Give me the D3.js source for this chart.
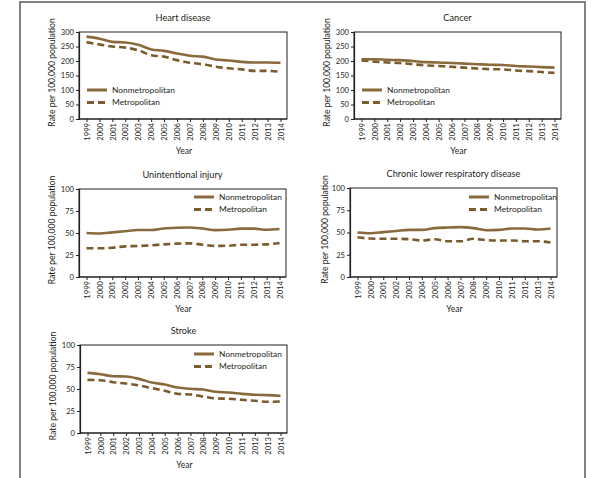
<!DOCTYPE html>
<html>
<head>
<meta charset="utf-8">
<script src="https://cdn.jsdelivr.net/npm/d3@7"></script>
<style>
  html, body { margin: 0; padding: 0; background: #fff; }
  svg { display: block; }
  text { font-family: Lato, "Open Sans", sans-serif; fill: #231f20; }
</style>
</head>
<body>
<svg id="chart" width="600" height="478"></svg>
<script>
// ---- Data ----
const years = ["1999","2000","2001","2002","2003","2004","2005","2006","2007","2008","2009","2010","2011","2012","2013","2014"];
const seriesNames = ["Nonmetropolitan", "Metropolitan"];
const panelTitles = ["Heart disease", "Cancer", "Unintentional injury", "Chronic lower respiratory disease", "Stroke"];

const heartNonmetro = [284, 277, 266, 264, 256, 240, 235, 226, 218, 215, 205, 202, 197, 195, 195, 194];
const heartMetro    = [265, 257, 250, 246, 237, 220, 215, 203, 194, 189, 180, 175, 171, 166, 166, 163];

const cancerNonmetro = [206, 206, 204, 203, 200, 196, 195, 193, 191, 189, 187, 186, 183, 181, 179, 177];
const cancerMetro    = [202, 198, 195, 193, 189, 185, 183, 180, 177, 174, 172, 171, 167, 165, 162, 159];

const injuryNonmetro = [50, 49.5, 50.7, 52, 53.4, 53.4, 55.2, 56, 56.3, 55.2, 53.3, 53.7, 55, 55, 53.7, 54.5];
const injuryMetro    = [32.6, 32.6, 33.3, 34.8, 35.2, 36, 37.1, 37.9, 38.2, 36.7, 35.4, 35.5, 36.7, 36.7, 37.1, 38.6];

const clrdNonmetro = [50, 49.2, 50.4, 51.6, 53, 53, 54.9, 55.6, 56, 54.9, 52.6, 53, 54.5, 54.5, 53.4, 54.5];
const clrdMetro    = [44.7, 43.2, 42.9, 42.9, 42.5, 41, 42.5, 40.2, 40.2, 42.9, 41.4, 41, 41, 40.2, 40.2, 38.7];

const strokeNonmetro = [68.3, 66.8, 64.5, 64.2, 61.5, 57.4, 55.1, 51.7, 50.2, 49.4, 46.8, 46, 44.5, 43.4, 43, 42.3];
const strokeMetro    = [60.4, 60, 57.7, 56.2, 54, 51, 48, 44.5, 43.8, 41.5, 39.2, 38.9, 37.7, 36.6, 35.5, 35.8];

const ticks300 = [0, 50, 100, 150, 200, 250, 300];
const ticks100 = [0, 25, 50, 75, 100];

// ---- Layout ----
const panels = [
  { title: panelTitles[0], non: heartNonmetro, met: heartMetro, ticks: ticks300, max: 300,
    x0: 79, x1: 287, y0: 32, y1: 119, legX: 87, legY: 90, ylabX: 52 },
  { title: panelTitles[1], non: cancerNonmetro, met: cancerMetro, ticks: ticks300, max: 300,
    x0: 354, x1: 561, y0: 32, y1: 119, legX: 362, legY: 90, ylabX: 327 },
  { title: panelTitles[2], non: injuryNonmetro, met: injuryMetro, ticks: ticks100, max: 100,
    x0: 79, x1: 286, y0: 189, y1: 277, legX: 194, legY: 197, ylabX: 52 },
  { title: panelTitles[3], non: clrdNonmetro, met: clrdMetro, ticks: ticks100, max: 100,
    x0: 350, x1: 557, y0: 188, y1: 277, legX: 469, legY: 197, ylabX: 325 },
  { title: panelTitles[4], non: strokeNonmetro, met: strokeMetro, ticks: ticks100, max: 100,
    x0: 80, x1: 287, y0: 345, y1: 433, legX: 194, legY: 354, ylabX: 53 }
];

const svg = d3.select("#chart");

// outer frame
svg.append("rect").attr("x", 20).attr("y", 2).attr("width", 565).attr("height", 490)
  .attr("fill", "none").attr("stroke", "#5a5a5a").attr("stroke-width", 1.5);

const colNon = "#8a6a3c";
const colMet = "#7b5a2b";

panels.forEach(p => {
  const g = svg.append("g");
  const x = d3.scalePoint().domain(years).range([p.x0 + 7.5, p.x1 - 6.5]);
  const y = d3.scaleLinear().domain([0, p.max]).range([p.y1, p.y0]);

  // box (top/right)
  g.append("rect").attr("x", p.x0).attr("y", p.y0).attr("width", p.x1 - p.x0).attr("height", p.y1 - p.y0)
    .attr("fill", "none").attr("stroke", "#231f20").attr("stroke-width", 1);

  // y axis
  const ya = g.append("g").attr("transform", `translate(${p.x0},0)`)
    .call(d3.axisLeft(y).tickValues(p.ticks).tickSize(3).tickPadding(2));
  ya.select(".domain").attr("stroke", "#231f20").attr("stroke-width", 1.2);
  ya.selectAll(".tick line").attr("stroke", "#231f20");
  ya.selectAll("text").style("font-size", "7.6px").style("font-family", "Lato, sans-serif").attr("fill", "#231f20");

  // x axis
  const xa = g.append("g").attr("transform", `translate(0,${p.y1})`)
    .call(d3.axisBottom(x).tickSize(3).tickSizeOuter(0).tickPadding(3));
  xa.select(".domain").attr("stroke", "#231f20").attr("stroke-width", 1.2)
    .attr("d", `M${p.x0},0H${p.x1}`);
  xa.selectAll(".tick line").attr("stroke", "#231f20");
  xa.selectAll("text")
    .style("font-size", "7.6px").style("font-family", "Lato, sans-serif").attr("fill", "#231f20")
    .attr("transform", "rotate(-90)")
    .attr("x", -4).attr("y", 0).attr("dy", "0.35em")
    .attr("text-anchor", "end");

  // lines
  const line = d3.line().x((d, i) => x(years[i])).y(d => y(d)).curve(d3.curveMonotoneX);
  g.append("path").datum(p.met).attr("d", line).attr("fill", "none")
    .attr("stroke", colMet).attr("stroke-width", 2.6).attr("stroke-dasharray", "7,4");
  g.append("path").datum(p.non).attr("d", line).attr("fill", "none")
    .attr("stroke", colNon).attr("stroke-width", 2.6);

  // title
  g.append("text").attr("x", (p.x0 + p.x1) / 2).attr("y", p.y0 - 11)
    .attr("text-anchor", "middle").style("font-size", "9.2px").text(p.title);

  // y label
  g.append("text").attr("transform", `translate(${p.ylabX + 3},${(p.y0 + p.y1) / 2 - 3}) rotate(-90)`)
    .attr("text-anchor", "middle").style("font-size", "8.6px").text("Rate per 100,000 population");

  // x label
  g.append("text").attr("x", (p.x0 + p.x1) / 2 + 1).attr("y", p.y1 + 35)
    .attr("text-anchor", "middle").style("font-size", "8.6px").text("Year");

  // legend
  seriesNames.forEach((name, i) => {
    const ly = p.legY + i * 12.5;
    g.append("line").attr("x1", p.legX).attr("x2", p.legX + 20).attr("y1", ly).attr("y2", ly)
      .attr("stroke", i === 0 ? colNon : colMet).attr("stroke-width", 3)
      .attr("stroke-dasharray", i === 0 ? null : "7,4");
    g.append("text").attr("x", p.legX + 25).attr("y", ly).attr("dy", "0.35em")
      .style("font-size", "8.4px").text(name);
  });
});
</script>
</body>
</html>
